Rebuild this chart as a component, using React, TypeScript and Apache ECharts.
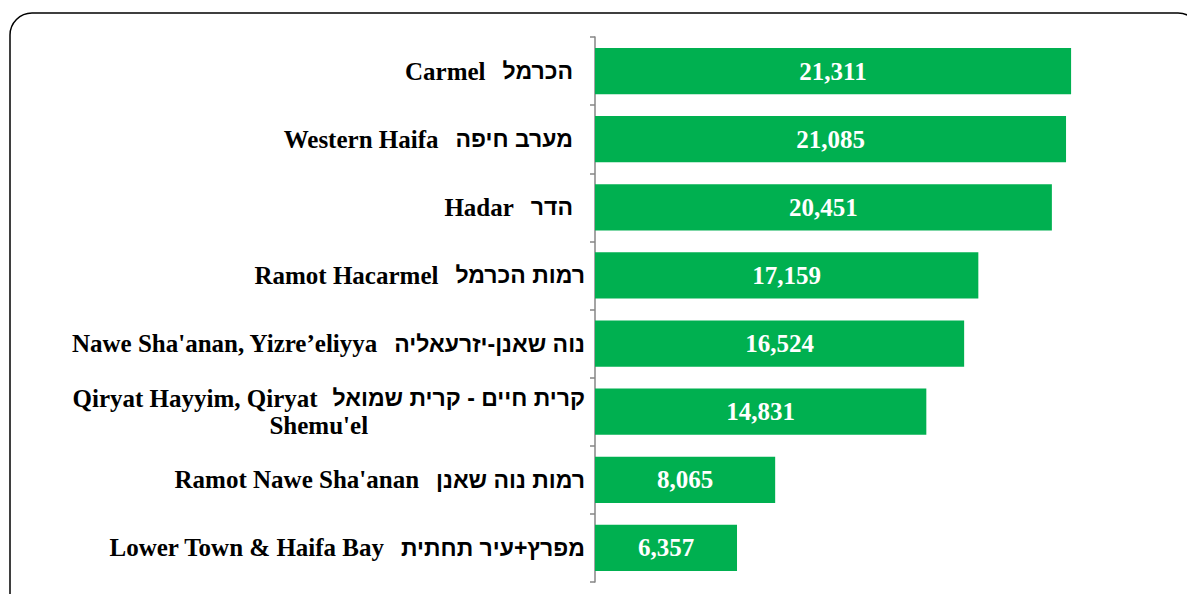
import React, { useEffect, useRef } from "react";
import * as echarts from "echarts";

const englishNames: string[] = [
  "Carmel",
  "Western Haifa",
  "Hadar",
  "Ramot Hacarmel",
  "Nawe Sha'anan, Yizre’eliyya",
  "Qiryat Hayyim, Qiryat",
  "Ramot Nawe Sha'anan",
  "Lower Town & Haifa Bay",
];
const hebrewNames: string[] = [
  "הכרמל",
  "מערב חיפה",
  "הדר",
  "רמות הכרמל",
  "נוה שאנן-יזרעאליה",
  "קרית חיים - קרית שמואל",
  "רמות נוה שאנן",
  "מפרץ+עיר תחתית",
];
const secondLines: string[] = ["", "", "", "", "", "Shemu'el", "", ""];
const values: number[] = [21311, 21085, 20451, 17159, 16524, 14831, 8065, 6357];
const gaps: number[] = [17, 17, 17, 17, 17, 15, 17, 17];
const extraPad: number[] = [12, 12, 12, 0, 0, 0, 0, 0];

const categories: string[] = englishNames.map((e, i) => String(i));

const SERIF = '"Liberation Serif", "Times New Roman", serif';
const HEB = '"Liberation Sans", "DejaVu Sans", sans-serif';

export default function App() {
  const ref = useRef<HTMLDivElement>(null);
  useEffect(() => {
    document.body.style.margin = "0";
    const chart = echarts.init(ref.current!, null, { renderer: "svg" });
    const rich: any = {
      e: { fontFamily: SERIF, fontWeight: "bold", fontSize: 25, color: "#000", lineHeight: 27 },
      h: { fontFamily: HEB, fontWeight: "bold", fontSize: 23, color: "#000", lineHeight: 27 },
      c: { fontFamily: SERIF, fontWeight: "bold", fontSize: 25, color: "#000", lineHeight: 27, align: "center", padding: [0, 20, 0, 0] },
    };
    gaps.forEach((g, i) => {
      rich["s" + i] = { width: g, fontSize: 25, lineHeight: 27 };
    });
    chart.setOption({
      animation: false,
      backgroundColor: "#ffffff",
      graphic: [
        {
          type: "rect",
          shape: { x: 10, y: 13, width: 1190, height: 620, r: 22 },
          style: { fill: "none", stroke: "#000000", lineWidth: 1.5 },
          silent: true,
        },
      ],
      grid: { left: 595, right: 33.5, top: 37, bottom: 12, containLabel: false, outerBoundsMode: "none" },
      xAxis: {
        type: "value",
        min: 0,
        max: 25000,
        show: false,
      },
      yAxis: {
        type: "category",
        inverse: true,
        data: categories.map((c, i) => ({
          value: c,
          textStyle: { padding: [0, extraPad[i], 0, 0] },
        })),
        axisLine: { show: true, lineStyle: { color: "#868686", width: 1.5 } },
        axisTick: { show: true, length: 5, inside: false, lineStyle: { color: "#868686", width: 1.5 } },
        axisLabel: {
          margin: 10,
          color: "#000000",
          fontFamily: SERIF,
          fontWeight: "bold",
          fontSize: 25,
          lineHeight: 27,
          align: "right",
          formatter: (v: string) => {
            const i = Number(v);
            let s = "{e|" + englishNames[i] + "}{s" + i + "| }{h|" + hebrewNames[i] + "}";
            if (secondLines[i]) s += "\n{c|" + secondLines[i] + "}";
            return s;
          },
          rich,
        },
        splitLine: { show: false },
      },
      series: [
        {
          type: "bar",
          data: values,
          barCategoryGap: "32%",
          itemStyle: { color: "#00B050" },
          label: {
            show: true,
            position: "inside",
            color: "#ffffff",
            fontFamily: SERIF,
            fontWeight: "bold",
            fontSize: 25,
            formatter: (p: any) => Number(p.value).toLocaleString("en-US"),
          },
        },
      ],
    });
    return () => chart.dispose();
  }, []);
  return (
    <div
      ref={ref}
      style={{ position: "absolute", left: 0, top: 0, width: 1187, height: 594 }}
    />
  );
}
